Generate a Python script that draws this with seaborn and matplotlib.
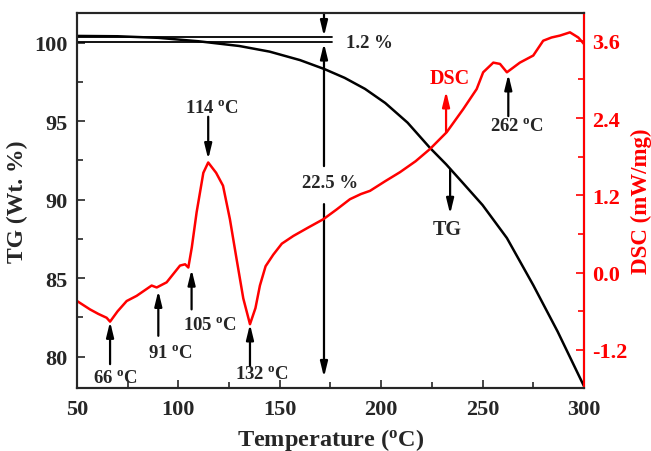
import numpy as np
import pandas as pd
import matplotlib
matplotlib.use("Agg")
import matplotlib.pyplot as plt
import seaborn as sns
from matplotlib.ticker import MultipleLocator

sns.set_style("ticks")
plt.rcParams['font.family'] = ['Liberation Serif', 'DejaVu Serif']
plt.rcParams['font.weight'] = 'bold'
plt.rcParams['mathtext.default'] = 'regular'

# TG curve (weight %)
tg_temp = [50, 70, 90, 110, 130, 145, 160, 172, 182, 192, 202, 213, 224, 232, 240, 250, 262, 275,
           287, 300]
tg_wt = [100.42, 100.40, 100.30, 100.08, 99.78, 99.42, 98.88, 98.31, 97.75, 97.05, 96.15, 94.9,
         93.3, 92.25, 91.1, 89.65, 87.55, 84.55, 81.6, 78.12]

# DSC curve (mW/mg)
dsc_temp = [50, 56.4, 60.5, 64.6, 66.3, 70, 74.5, 79.4, 86.8, 89.3, 94.2, 100.8, 103.3, 104.9,
            106.6, 109, 112.3, 114.7, 118.6, 122, 125.4, 128.7, 132, 135.3, 138, 140.2, 143,
            146.8, 151, 156.7, 164, 171.5, 178, 184.6, 190, 194.5, 202, 209.3, 217, 224.1,
            232.3, 240.5, 247.1, 250.3, 255.3, 258.6, 262, 265, 268.4, 275, 279.9, 284, 288.2,
            293.1, 297.2, 300]
dsc_val = [-0.44, -0.57, -0.64, -0.70, -0.76, -0.6, -0.44, -0.36, -0.2, -0.23, -0.15, 0.11, 0.13,
           0.08, 0.39, 0.94, 1.55, 1.71, 1.55, 1.35, 0.83, 0.21, -0.4, -0.8, -0.55, -0.2, 0.1,
           0.28, 0.45, 0.57, 0.7, 0.83, 0.98, 1.14, 1.22, 1.27, 1.42, 1.56, 1.73, 1.92, 2.18,
           2.54, 2.85, 3.11, 3.26, 3.24, 3.11, 3.18, 3.26, 3.37, 3.6, 3.65, 3.68, 3.73, 3.65, 3.55]

# DSC peak labels: (text, arrow x, tip y, tail y, label x, label y)
dsc_peaks = [
    ("66", 66.3, -0.76, -1.42, 68.8, -1.62),
    ("91", 90.1, -0.28, -0.98, 95.9, -1.24),
    ("105", 106.5, 0.05, -0.57, 115.6, -0.81),
    ("132", 135.3, -0.80, -1.45, 141.0, -1.57),
    ("114", 114.7, 1.76, 2.42, 116.4, 2.57),
    ("262", 262.7, 3.08, 2.43, 266.8, 2.28),
]

fig = plt.figure(figsize=(6.51, 4.52), dpi=100)
ax = fig.add_axes([0.1183, 0.1394, 0.7787, 0.8296])
sns.lineplot(x=tg_temp, y=tg_wt, ax=ax, color='black', lw=1.8)
ax2 = ax.twinx()
sns.lineplot(x=dsc_temp, y=dsc_val, ax=ax2, color='red', lw=1.8)

ax.set_xlim(50, 300)
ax.set_ylim(78, 101.88)
ax2.set_ylim(-1.79, 4.03)

ax.xaxis.set_major_locator(MultipleLocator(50))
ax.xaxis.set_minor_locator(MultipleLocator(25))
ax.yaxis.set_major_locator(MultipleLocator(5))
ax.yaxis.set_minor_locator(MultipleLocator(2.5))
ax2.yaxis.set_minor_locator(MultipleLocator(0.6))
ax2.set_yticks([-1.2, 0.0, 1.2, 2.4, 3.6])
ax2.set_yticklabels(['-1.2', '0.0', '1.2', '2.4', '3.6'])

ax.tick_params(axis='both', which='both', direction='in', labelsize=16, width=1.2,
               top=False, right=False)
ax.tick_params(axis='x', which='major', length=6, pad=8)
ax.tick_params(axis='y', which='major', length=6, pad=7)
ax.tick_params(which='minor', length=4)
ax2.tick_params(axis='y', which='both', direction='in', colors='red', labelsize=16, width=1.2)
ax2.tick_params(which='major', length=6, pad=6)
ax2.tick_params(which='minor', length=4)
for lab in ax.get_xticklabels() + ax.get_yticklabels() + ax2.get_yticklabels():
    lab.set_fontweight('bold')

for sp in ax.spines.values():
    sp.set_linewidth(1.5)
    sp.set_color('black')
for sp in ax2.spines.values():
    sp.set_linewidth(1.5)
ax2.spines['right'].set_color('red')

ax.set_xlabel('Temperature ($^{o}$C)', fontsize=17.5, fontweight='bold', labelpad=5)
ax.set_ylabel('TG (Wt. %)', fontsize=17, fontweight='bold', labelpad=4)
ax2.set_ylabel('DSC (mW/mg)', fontsize=16.5, fontweight='bold', color='red', labelpad=2)

arrow_k = dict(arrowstyle='-|>,head_width=0.22,head_length=0.9', color='black', lw=1.6,
               shrinkA=0, shrinkB=0)
arrow_r = dict(arrowstyle='-|>,head_width=0.22,head_length=0.9', color='red', lw=1.6,
               shrinkA=0, shrinkB=0)

for txt, xa, ytip, ytail, xl, yl in dsc_peaks:
    ax2.annotate('', xy=(xa, ytip), xytext=(xa, ytail), arrowprops=arrow_k)
    ax2.text(xl, yl, txt + ' $^{o}$C', ha='center', va='center', fontsize=13.5, fontweight='bold')

# weight loss markers
ax.plot([50, 175.7], [100.37, 100.37], color='black', lw=1.3)
ax.plot([50, 175.7], [100.05, 100.05], color='black', lw=1.3)
ax.annotate('', xy=(171.8, 100.40), xytext=(171.8, 101.88), arrowprops=arrow_k)
ax.annotate('', xy=(171.8, 99.95), xytext=(171.8, 92.13), arrowprops=arrow_k)
ax.annotate('', xy=(171.8, 78.69), xytext=(171.8, 89.71), arrowprops=arrow_k)
ax.text(182.6, 100.03, '1.2 %', ha='left', va='center', fontsize=13.5, fontweight='bold')
ax.text(174.8, 91.1, '22.5 %', ha='center', va='center', fontsize=13.5, fontweight='bold')

# curve labels
ax.annotate('', xy=(234, 89.08), xytext=(234, 91.94), arrowprops=arrow_k)
ax.text(232.4, 88.1, 'TG', ha='center', va='center', fontsize=14.5, fontweight='bold')
ax.annotate('', xy=(232, 96.9), xytext=(232, 94.3), arrowprops=arrow_r)
ax.text(233.7, 97.77, 'DSC', ha='center', va='center', fontsize=14.5, fontweight='bold',
        color='red')

fig.savefig('out.png', dpi=100)
